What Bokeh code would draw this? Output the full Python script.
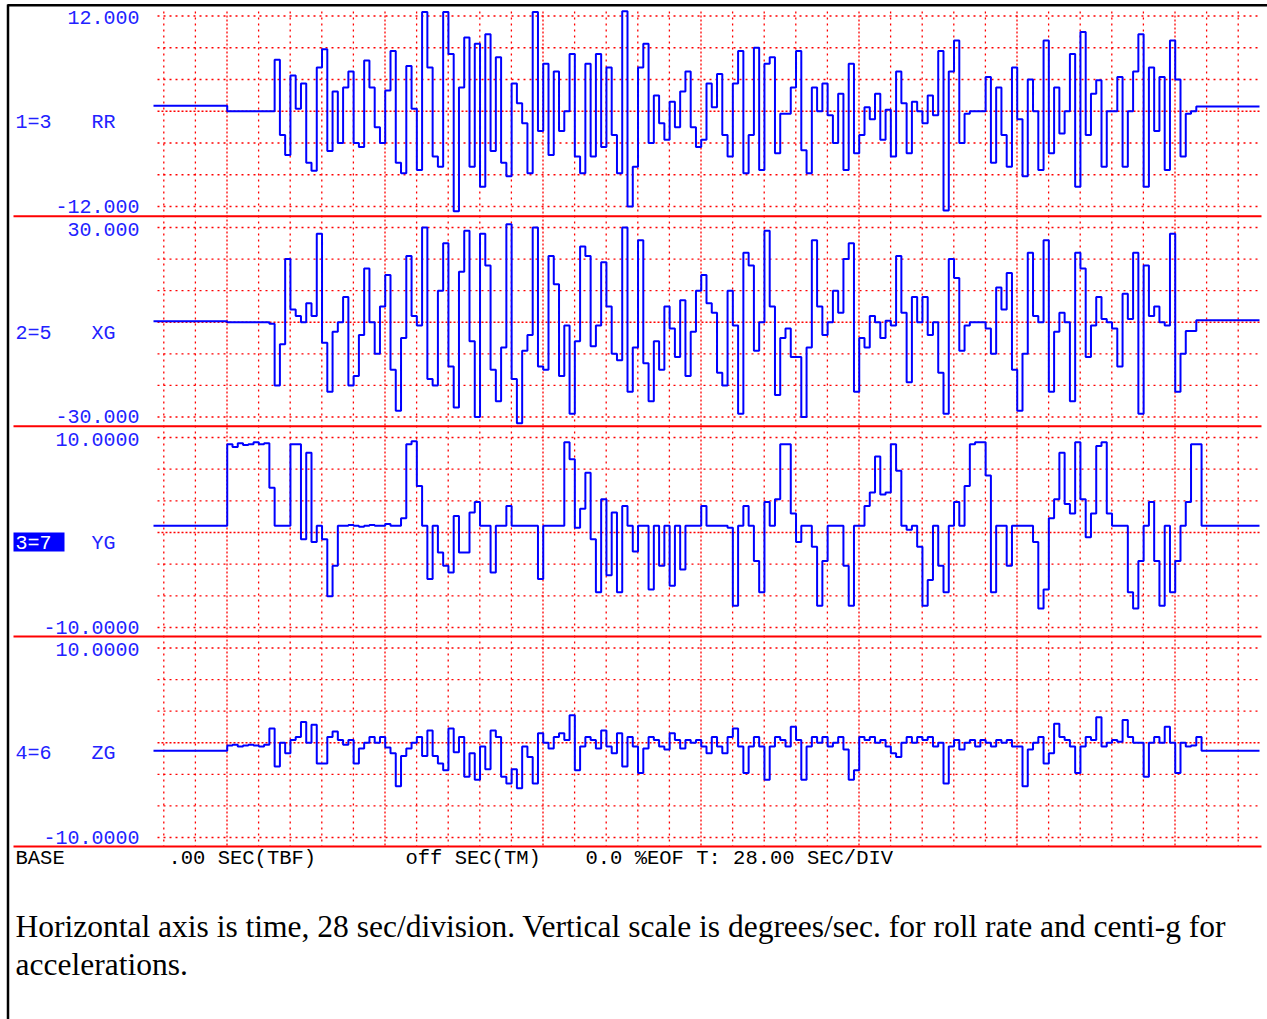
import numpy as np
from bokeh.plotting import figure
from bokeh.models import Range1d, Label
from bokeh.core.properties import value
from bokeh.embed import file_html
from bokeh.resources import INLINE

# ---------------- data ----------------
SEC_PER_SAMPLE = 5.6 / 6.0   # 28 s per division, 5 minor grid steps, 6 samples per step

rr = [
    0.7, 0.7, 0.7, 0.7, 0.7, 0.7, 0.7, 0.7, 0.7, 0.7, 0.7, 0.7, 0.7, 0.7,
    0, 0, 0, 0, 0, 0, 0, 0, 0,
    6.5, -3, -5.5,
    4.5, 0.3, 3.5, -6.5, -7.5, 5.5,
    7.8, -5, 2.5, -4, 3, 5,
    -4, -4.5, 6.4, 3, -2, -4,
    2.6, 7.6, -6.5, -7.8, 5.7, 0.3,
    -7.4, 12.5, 5.5, -5.7, -7, 12.5,
    7.2, -12.6, 3, 9.3, -7, 8.5,
    -9.5, 9.7, -5, 6.8, -6.5, -8.2,
    3.5, 1, -1.5, -7.8, 12.5, -2.5,
    6, -5.5, 5, -2.5, 0, 7.2,
    -5.7, -7.8, 6, -5.7, 7.2, -4.5,
    5.5, -3, -7.8, 12.6, -12, -7,
    5.5, 8.5, -4, 2, -1.5, -3.6,
    1.2, -2, 2.5, 5, -2, -4.5,
    -3.6, 3.5, 0.5, 4.7, -3, -5.7,
    3.5, 7.6, -7.8, -3, 8, -7.4,
    6, 6.8, -5.3, -0.3, -0.3, 3,
    7.6, -4.9, -7.8, 3, 0, 3.5,
    -0.5, -4, 2.2, -7.4, 6, -5.3,
    -3, 0.5, -1, 2.2, -3.6, 0.2,
    -5.7, 5, 1, -5.3, 1.2, 0,
    -1.5, 2, -0.5, 7.6, -12.5, 5,
    8.9, -4, -0.3, 0, 0, 0,
    4.3, -6.5, 3, -3, -7, 5.5,
    -1, -8.2, 4, 0, -7.4, 8.9,
    -5.3, 3, -2.8, 0, 7.2, -9.5,
    10, -3, 2.2, 3.9, -7, 0,
    0, 4.3, -7, 0, 5, 9.7,
    -9.5, 5.5, -2.5, 4.3, -7.4, 8.9,
    4, -5.7, -0.3, 0, 0.6, 0.6,
    0.6, 0.6, 0.6, 0.6, 0.6, 0.6, 0.6, 0.6, 0.6, 0.6, 0.6,
]

xg = [
    0.3, 0.3, 0.3, 0.3, 0.3, 0.3, 0.3, 0.3, 0.3, 0.3, 0.3, 0.3, 0.3, 0.3,
    0, 0, 0, 0, 0, 0, 0, 0, -0.5,
    -20, -7, 20,
    4, 2, 0, 6, 2, 28,
    -6.5, -22, -3, 0, 8, -20,
    -17, -4, 17, 0, -10, 5,
    15, -15, -28, -5, 21, 2,
    -1, 30, -18, -20, 10, 25,
    -14, -27, 16, 29, -6, -30,
    28, 18, -15, -25, -8, 31,
    -18, -32, -9, -4, 30, -14,
    -15, 21, 12, -17, -1, -29,
    -6, 24, 21, -7.6, -1, 19,
    5, -10, -12, 30, -22, -8,
    26, -13, -25, -6, -15, 5,
    -2, -11, 7, -17, -3, 10,
    15, 6, 3, -16, -20, 10,
    -1, -29, 22, 18, -9, 0,
    29, 5, -23, -5, -2, -11,
    -11, -30, -8, 26, 5, -4,
    0, 10, 3, 20, 25, -22,
    -5, -8, 2, 0, -5, 0.5,
    -1, 21, 3, -19, 8, 0,
    8, -4, 0, -16, -29, 20,
    14, -9, -1, 0, 0, 0,
    -2, -10, 11, 4, 15.6, -15,
    -28, -10, 22, 2, 0, 26,
    -22, -3, 3, 0, -25, 22,
    17, -11, -1, 8, 1, 0,
    -2, -14, 9, 1, 22, -29,
    18, 2, 5, 0, -1, 28,
    -22, -10, -2.8, -2.8, 0.6, 0.6,
    0.6, 0.6, 0.6, 0.6, 0.6, 0.6, 0.6, 0.6, 0.6, 0.6, 0.6,
]

yg = [
    0.7, 0.7, 0.7, 0.7, 0.7, 0.7, 0.7, 0.7, 0.7, 0.7, 0.7, 0.7, 0.7, 0.7,
    9.3, 9.0, 9.4, 9.2, 9.3, 9.5, 9.3, 9.4,
    4.7,
    0.7, 0.7, 0.7,
    9.3, 9.3,
    -0.7, 8.4, -1, 0.7, -0.7, -6.7, -3.5, 0.7,
    0.7, 0.8, 0.7, 0.6, 0.7, 0.8, 0.7, 0.7, 0.9, 0.7, 0.7,
    1.5, 9.3, 9.6, 4.9, 0.7, -4.9, 0.7, -2.1, -3.5, -4.2, 1.75,
    -2.1, -2.1, 2.1, 3.2, 0.7, 0.7, -4.2, 0.7, 0.7, 2.8, 0.7,
    0.7, 0.7, 0.7, 0.7,
    -4.9,
    0.7, 0.7, 0.7, 0.7,
    9.5, 7.7, 0.5, 2.5, 6.3, -0.7, -6.3, 3.5, -4.5, 2.1, -6.3, 2.8,
    0.7, -2, 0.7, 0.7, -6, 0.7, -3.5, 0.7, -5.6, 0.7, -3.9,
    0.7, 0.7, 0.7, 2.8, 0.7, 0.7, 0.7, 0.7,
    0.5, -7.7, 0.7, 2.8, 0.7, -3, -6.3, 3.2, 0.7, 3.5,
    9.3, 9.3, 2, -1, 0.7, 0.7, -1.5, -7.7, -3, 0.7,
    0.7, 0.7, -3.5, -7.7, 0.7, 0.7, 2.8, 4.2, 8, 4,
    4.2, 9.3, 6.5, 0.7, 0.3, 0.7, -1.5, -7.7, -5, 0.7,
    -3.5, -6.3, 0.7, 3.2, 0.7, 4.9, 9.3, 9.5, 9.5, 6,
    -6.3, 0.7, 0.7, -3.5,
    0.7, 0.7, 0.7, 0.7,
    -1, -8, -6, 1.5, 3.5, 8.4, 3, 2, 9.5, 3.5, -0.5, 2, 9.1, 9.5, 2,
    0.7, 0.7, 0.7,
    -6.3, -8, -3, 0.7, 3.2, -3, -7.7, 0.7, -6.3, -3, 0.7, 3.2, 9.3, 9.3,
    0.7, 0.7, 0.7, 0.7, 0.7, 0.7, 0.7, 0.7, 0.7, 0.7, 0.7, 0.7,
]

zg = [
    -0.84, -0.84, -0.84, -0.84, -0.84, -0.84, -0.84, -0.84, -0.84, -0.84, -0.84, -0.84, -0.84, -0.84,
    -0.3, -0.2, -0.4, -0.3, -0.2, -0.3, -0.4, -0.2,
    1.5, -2.5, 0, -1.1, 0.3, 0.6, 2.2, 0, 1.9, -2.2,
    -2.2, 0.6, 1.2, 0.3, -0.2, 0.3, -2.2, -0.6, 0, 0.6,
    0, 0.6, -0.5, -1.1, -4.6, -1.4, -0.6, 0, 0.6, -1.4,
    1.3, -1.4, -2.2, -2.9, 1.5, -1, 0.6, -3.6, -1.1, -3.9,
    -0.4, -2.8, 1.3, 0.6, -3.6, -4.3, -2.8, -4.8, -0.4, -1.5,
    -4.3, 1, 0, -0.6, 0.6, 1, 0.3, 2.9, -2.9, -0.4,
    0.6, 0.3, -0.6, 1.3, -0.4, -1.1, 1, -2.5, 0.6, -0.4,
    -3.2, -0.6, 0.6, 0.3, -0.4, -0.7, 1, 0.3, -0.6, 0.3,
    0, 0.3, -0.4, -1.1, 0.6, -0.4, -1.1, 0.6, 1.5, -0.4,
    -3.2, -0.4, 0.6, -0.4, -3.9, -0.4, 0.6, 0.3, -0.4, 1.7,
    0.3, -3.9, -0.4, 0.6, 0, 0.6, -0.4, 0, 0.6, -0.7,
    -3.9, -2.9, 0.6, 0.3, 0.6, 0, 0.3, -0.4, -1.1, -1.5,
    0, 0.6, 0, 0.6, 0.3, 0.6, -0.4, 0, -4.3, -0.4,
    0.3, -0.7, 0, 0.3, -0.4, 0.3, 0, -0.4, 0.3, 0,
    0.3, -0.4, -0.4, -4.6, -0.7, 0, 0.6, -2.2, -1.1, 2,
    0.6, 0.3, -0.4, -3.2, -0.4, 0.6, 0.3, 2.7, -0.4, 0,
    0.3, 0.1, 2.4, 0.6, 0, 0, -3.6, 0, 0.6, 0,
    1.7, 0, -3.2, 0, -0.4, -0.3, 0.6,
    -0.84, -0.84, -0.84, -0.84, -0.84, -0.84, -0.84, -0.84, -0.84, -0.84, -0.84, -0.84,
]

series = [rr, xg, yg, zg]
channel_ids = ["1=3", "2=5", "3=7", "4=6"]
channel_names = ["RR", "XG", "YG", "ZG"]
scale_max = [12.0, 30.0, 10.0, 10.0]
top_labels = ["12.000", "30.000", "10.0000", "10.0000"]
bottom_labels = ["-12.000", "-30.000", "-10.0000", "-10.0000"]
status_texts = ["BASE", ".00 SEC(TBF)", "off SEC(TM)", "0.0 %EOF T: 28.00 SEC/DIV"]
caption_lines = [
    "Horizontal axis is time, 28 sec/division. Vertical scale is degrees/sec. for roll rate and centi-g for",
    "accelerations.",
]

# ---------------- layout (page pixels) ----------------
X0, Y0, W, H = 0, 0, 1267, 1019
PX_T0 = 153.0
PX_PER_SEC = 31.6 / 5.6
panel_top = [15.5, 227.0, 437.0, 647.5]
panel_bot = [206.0, 416.5, 627.0, 837.0]
sep_y = [215.7, 425.7, 636.0, 846.0]

RED = "#ff0000"
BLUE = "#0000ff"
LBL = "#2222ff"
MONO = "Liberation Mono"

p = figure(width=W, height=H, x_range=Range1d(X0, X0 + W), y_range=Range1d(Y0 + H, Y0),
           output_backend="svg", toolbar_location=None, min_border=0,
           x_axis_location=None, y_axis_location=None)
p.grid.visible = False
p.outline_line_color = None
p.background_fill_color = "white"
p.border_fill_color = "white"

p.extra_x_ranges = {"t": Range1d((X0 - PX_T0) / PX_PER_SEC, (X0 + W - PX_T0) / PX_PER_SEC)}
ranges = {}
for i in range(4):
    V, T, B = scale_max[i], panel_top[i], panel_bot[i]
    span = 2 * V * H / (B - T)
    e = V + (T - Y0) * span / H
    ranges["p%d" % i] = Range1d(e - span, e)
p.extra_y_ranges = ranges

# page frame
p.segment(x0=[7, 7.5], y0=[4.8, 4], x1=[1267, 7.5], y1=[4.8, 1019], line_color="black", line_width=2.5)

# vertical grid
vx = [163.3 + 31.6 * k for k in range(35)]
minor_x = [x for k, x in enumerate(vx) if k % 5 != 2]
major_x = [x for k, x in enumerate(vx) if k % 5 == 2]
p.segment(x0=minor_x, y0=[11] * len(minor_x), x1=minor_x, y1=[846] * len(minor_x),
          line_color=RED, line_width=1.3, line_dash=value("2 4"))
p.segment(x0=major_x, y0=[11] * len(major_x), x1=major_x, y1=[846] * len(major_x),
          line_color=RED, line_width=1.3, line_dash=value("2 2"))

# horizontal grid
hy_minor, hy_major = [], []
for i in range(4):
    T, B = panel_top[i], panel_bot[i]
    for j in range(7):
        y = T + (B - T) * j / 6
        (hy_major if j == 3 else hy_minor).append(y)
p.segment(x0=[157] * len(hy_minor), y0=hy_minor, x1=[1261] * len(hy_minor), y1=hy_minor,
          line_color=RED, line_width=1.3, line_dash=value("2 4"))
p.segment(x0=[157] * len(hy_major), y0=hy_major, x1=[1261] * len(hy_major), y1=hy_major,
          line_color=RED, line_width=1.3, line_dash=value("2 2"))

# separators
p.segment(x0=[13] * 4, y0=sep_y, x1=[1261] * 4, y1=sep_y, line_color=RED, line_width=2)

# traces
for i, vals in enumerate(series):
    t = np.arange(len(vals)) * SEC_PER_SAMPLE
    p.step(x=t, y=vals, mode="after", x_range_name="t", y_range_name="p%d" % i,
           line_color=BLUE, line_width=2)

# box behind the active channel id
p.quad(left=[13], right=[64], top=[532], bottom=[551], fill_color=BLUE, line_color=None)

for i in range(4):
    T, B = panel_top[i], panel_bot[i]
    C = (T + B) / 2
    p.add_layout(Label(x=139, y=T + 1.5, text=top_labels[i], text_font=MONO, text_font_size="20px",
                       text_color=LBL, text_align="right", text_baseline="middle"))
    p.add_layout(Label(x=139, y=B - 0.5, text=bottom_labels[i], text_font=MONO, text_font_size="20px",
                       text_color=LBL, text_align="right", text_baseline="middle"))
    p.add_layout(Label(x=15, y=C + 11, text=channel_ids[i], text_font=MONO, text_font_size="20px",
                       text_color=("white" if i == 2 else LBL), text_align="left", text_baseline="middle"))
    p.add_layout(Label(x=91, y=C + 11, text=channel_names[i], text_font=MONO, text_font_size="20px",
                       text_color=LBL, text_align="left", text_baseline="middle"))

status_x = [15, 168, 405, 585]
for sx, st in zip(status_x, status_texts):
    p.add_layout(Label(x=sx, y=858, text=st, text_font=MONO, text_font_size="20.5px",
                       text_color="black", text_align="left", text_baseline="middle"))

for ly, line in zip([926, 964], caption_lines):
    p.add_layout(Label(x=15, y=ly, text=line, text_font="Liberation Serif", text_font_size="31.5px",
                       text_color="black", text_align="left", text_baseline="middle"))

open("out.html", "w").write(file_html(p, INLINE))
